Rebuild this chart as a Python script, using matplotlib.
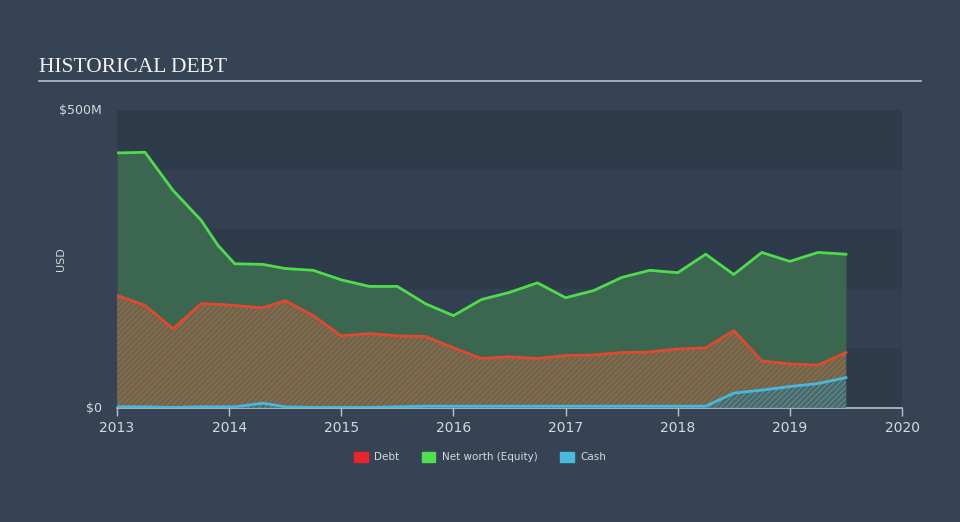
import matplotlib
matplotlib.use("Agg")
import matplotlib.pyplot as plt
from matplotlib.patches import Patch

# ---------- data (USD millions) ----------
years = [2013.0, 2013.25, 2013.5, 2013.75, 2013.9, 2014.05, 2014.3, 2014.5, 2014.75,
         2015.0, 2015.25, 2015.5, 2015.75, 2016.0, 2016.25, 2016.5, 2016.75,
         2017.0, 2017.25, 2017.5, 2017.75, 2018.0, 2018.25, 2018.5, 2018.75,
         2019.0, 2019.25, 2019.5]
equity = [428, 429, 365, 315, 273, 242, 241, 234, 231,
          215, 204, 204, 175, 155, 182, 194, 210,
          185, 197, 219, 231, 227, 258, 224, 261,
          246, 261, 258]
debt = [189, 172, 133, 175, 174, 172, 168, 180, 155,
        121, 125, 121, 120, 101, 83, 86, 83,
        88, 89, 93, 94, 99, 101, 130, 79,
        74, 72, 93]
cash = [2, 2, 1, 2, 2, 2, 8, 2, 1,
        1, 1, 2, 3, 3, 3, 3, 3,
        3, 3, 3, 3, 3, 3, 25, 30,
        36, 41, 51]

xticks = [2013, 2014, 2015, 2016, 2017, 2018, 2019, 2020]

# ---------- style ----------
BG = "#354354"
PLOT_BG = "#2e3b4b"
BAND = "#324051"
TXT = "#d4d9df"
GREEN = "#4fdc4b"
RED = "#e0492e"
BLUE = "#47b8dc"

plt.rcParams["hatch.linewidth"] = 0.6

fig = plt.figure(figsize=(9.6, 5.22), dpi=100, facecolor=BG)
ax = fig.add_axes([117 / 960, 1 - 408 / 522, 785 / 960, 298 / 522])
ax.set_facecolor(PLOT_BG)
ax.set_xlim(2013, 2020)
ax.set_ylim(0, 500)

# alternating horizontal bands
for i, lo in enumerate(range(0, 500, 100)):
    if i % 2 == 1:
        ax.axhspan(lo, lo + 100, color=BAND, lw=0, zorder=0)

# equity area
ax.fill_between(years, equity, 0, color="#3b6650", lw=0, zorder=1)
# debt hatched area
ax.fill_between(years, debt, 0, facecolor="#6a6a50", edgecolor="#c8603a",
                hatch="//////", lw=0, zorder=2, alpha=0.9)
# cash hatched area
ax.fill_between(years, cash, 0, facecolor="#4a6a6a", edgecolor="#5aa0b0",
                hatch="//////", lw=0, zorder=3, alpha=0.9)

ax.plot(years, equity, color=GREEN, lw=2, zorder=5)
ax.plot(years, debt, color=RED, lw=2, zorder=5)
ax.plot(years, cash, color=BLUE, lw=2, zorder=6)

# axes
for s in ["top", "right", "left"]:
    ax.spines[s].set_visible(False)
ax.spines["bottom"].set_color("#b8c0ca")
ax.spines["bottom"].set_linewidth(1.2)
ax.set_xticks(xticks)
ax.set_xticklabels([str(x) for x in xticks])
ax.tick_params(axis="x", colors="#b8c0ca", length=6, width=1, labelcolor=TXT,
               labelsize=10, pad=3)
ax.set_yticks([0, 500])
ax.set_yticklabels(["$0", "$500M"])
ax.tick_params(axis="y", length=0, labelcolor=TXT, labelsize=9, pad=11)
for lab in ax.get_yticklabels():
    lab.set_verticalalignment("center")
ax.set_ylabel("USD", color=TXT, fontsize=8)
ax.yaxis.set_label_coords(-0.065, 0.5)

# title
fig.text(39 / 960, 1 - 68 / 522, "HISTORICAL DEBT", family="Liberation Serif",
         fontsize=15.5, color="#f2f2f2", va="center", ha="left")
fig.add_artist(plt.Line2D([39 / 960, 921 / 960], [1 - 81 / 522, 1 - 81 / 522],
                          color="#b6bcc4", lw=1.2))

# legend
handles = [Patch(color="#e8262a", label="Debt"),
           Patch(color="#4fe050", label="Net worth (Equity)"),
           Patch(color="#4ab9de", label="Cash")]
leg = fig.legend(handles=handles, loc="center", bbox_to_anchor=(0.5, 1 - 457 / 522),
                 ncol=3, frameon=False, fontsize=7.5, handlelength=1.3,
                 handleheight=1.1, columnspacing=2.2, handletextpad=0.6)
for t in leg.get_texts():
    t.set_color(TXT)

fig.savefig("out.png", dpi=100, facecolor=BG)
